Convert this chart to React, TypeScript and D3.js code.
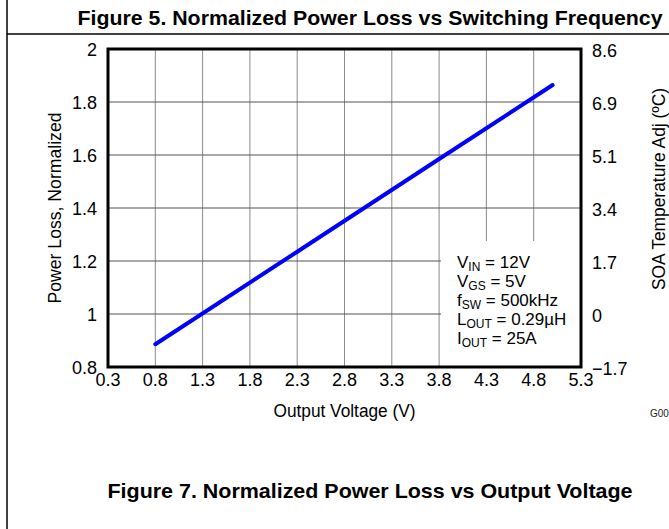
import React, { useEffect } from 'react';
import * as d3 from 'd3';

// chart data
const xTicks = [0.3, 0.8, 1.3, 1.8, 2.3, 2.8, 3.3, 3.8, 4.3, 4.8, 5.3];
const yTicks = [0.8, 1, 1.2, 1.4, 1.6, 1.8, 2];
const rightLabels = ['\u22121.7', '0', '1.7', '3.4', '5.1', '6.9', '8.6'];
const vout = [0.8, 2.3, 3.8, 5.0];
const powerLoss = [0.886, 1.235, 1.585, 1.864];

const legendLines = [
  ['V', 'IN', ' = 12V'],
  ['V', 'GS', ' = 5V'],
  ['f', 'SW', ' = 500kHz'],
  ['L', 'OUT', ' = 0.29\u00b5H'],
  ['I', 'OUT', ' = 25A'],
];

const W = 669;
const H = 529;
const plot = { left: 108, right: 581, top: 49, bottom: 367 };
const font = 'Arial, "Liberation Sans", Helvetica, sans-serif';

const App = () => {
  useEffect(() => {
    document.body.style.margin = '0';
  }, []);

  const x = d3.scaleLinear().domain([0.3, 5.3]).range([plot.left, plot.right]);
  const y = d3.scaleLinear().domain([0.8, 2]).range([plot.bottom, plot.top]);

  const line = d3
    .line<number>()
    .x((d, i) => x(vout[i]))
    .y((d) => y(d));

  const legendX = 457;
  const legendY0 = 268;
  const legendStep = 19;

  return (
    <svg width={W} height={H} style={{ display: 'block', background: '#fff' }} fontFamily={font}>
      {/* page frame */}
      <line x1={7} y1={0} x2={7} y2={H} stroke="#000" strokeWidth={1.5} />
      <line x1={7} y1={34} x2={W} y2={34} stroke="#000" strokeWidth={1.5} />
      <text x={370} y={25} textAnchor="middle" fontWeight="bold" fontSize={21} textLength={585} lengthAdjust="spacingAndGlyphs">
        Figure 5. Normalized Power Loss vs Switching Frequency
      </text>

      {/* grid */}
      {xTicks.slice(1, -1).map((t) => (
        <line key={'vx' + t} x1={x(t)} x2={x(t)} y1={plot.top} y2={plot.bottom} stroke="#8a8a8a" strokeWidth={1} />
      ))}
      {yTicks.slice(1, -1).map((t) => (
        <line key={'hy' + t} x1={plot.left} x2={plot.right} y1={y(t)} y2={y(t)} stroke="#555" strokeWidth={1} />
      ))}

      {/* legend box covers grid */}
      <rect x={441} y={241} width={plot.right - 441} height={plot.bottom - 241} fill="#fff" />

      {/* data */}
      <path d={line(powerLoss) || ''} fill="none" stroke="#0000ff" strokeWidth={4} strokeLinecap="round" />

      <rect
        x={plot.left}
        y={plot.top}
        width={plot.right - plot.left}
        height={plot.bottom - plot.top}
        fill="none"
        stroke="#000"
        strokeWidth={3}
      />

      {/* left ticks */}
      {yTicks.map((t) => (
        <text key={'ly' + t} x={97} y={y(t) + 7} textAnchor="end" fontSize={18}>
          {d3.format('~g')(t)}
        </text>
      ))}
      {/* right ticks */}
      {yTicks.map((t, i) => (
        <text key={'ry' + t} x={592} y={y(t) + 8} fontSize={18}>
          {rightLabels[i]}
        </text>
      ))}
      {/* bottom ticks */}
      {xTicks.map((t) => (
        <text key={'bx' + t} x={x(t)} y={386} textAnchor="middle" fontSize={18}>
          {t.toFixed(1)}
        </text>
      ))}

      <text x={(plot.left + plot.right) / 2} y={417} textAnchor="middle" fontSize={18} textLength={142} lengthAdjust="spacingAndGlyphs">
        Output Voltage (V)
      </text>
      <text transform={`translate(61,${(plot.top + plot.bottom) / 2}) rotate(-90)`} textAnchor="middle" fontSize={18} textLength={191} lengthAdjust="spacingAndGlyphs">
        Power Loss, Normalized
      </text>
      <text transform={`translate(665,189) rotate(-90)`} textAnchor="middle" fontSize={18} textLength={202} lengthAdjust="spacingAndGlyphs">
        SOA Temperature Adj (ºC)
      </text>

      {legendLines.map((l, i) => (
        <text key={'lg' + i} x={legendX} y={legendY0 + i * legendStep} fontSize={17}>
          {l[0]}
          <tspan fontSize={12} dy={3}>{l[1]}</tspan>
          <tspan dy={-3}>{l[2]}</tspan>
        </text>
      ))}

      <text x={650} y={417} fontSize={10} fill="#222">
        G00
      </text>

      <text x={370} y={498} textAnchor="middle" fontWeight="bold" fontSize={21} textLength={525} lengthAdjust="spacingAndGlyphs">
        Figure 7. Normalized Power Loss vs Output Voltage
      </text>
    </svg>
  );
};

export default App;
